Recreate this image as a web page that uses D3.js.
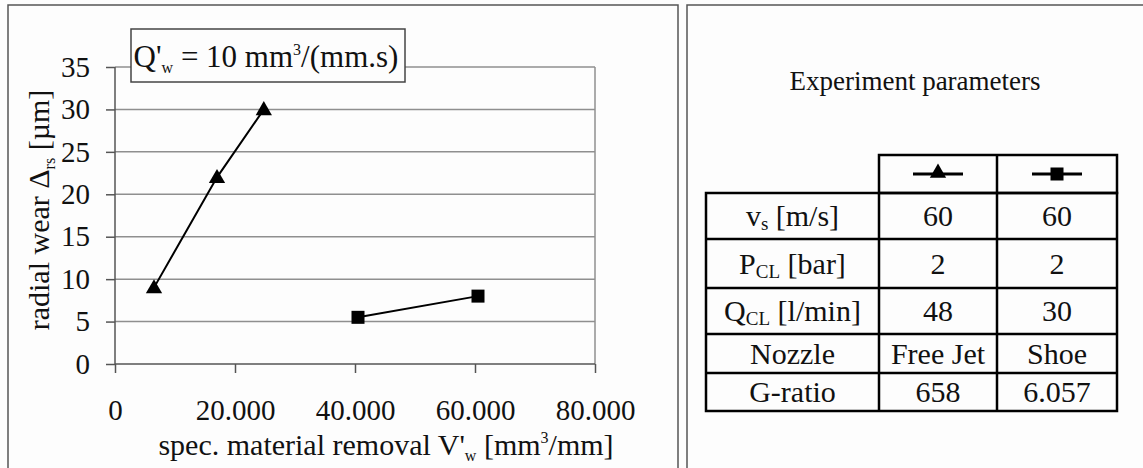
<!DOCTYPE html>
<html><head><meta charset="utf-8">
<script src="https://cdn.jsdelivr.net/npm/d3@7/dist/d3.min.js"></script>
<style>
html,body{margin:0;padding:0;background:#fdfdfd;}
svg{display:block;font-family:"Liberation Serif","Times New Roman",serif;}
svg text{font-family:"Liberation Serif","Times New Roman",serif !important;fill:#111;}
</style></head>
<body>
<svg id="c" width="1143" height="468"></svg>
<script>
// ---- data ----
const xTicks = [0, 20000, 40000, 60000, 80000];
const yTicks = [0, 5, 10, 15, 20, 25, 30, 35];
const freeJetX = [6500, 17000, 24800];
const freeJetY = [9, 22, 30];
const shoeX = [40500, 60500];
const shoeY = [5.5, 8];
const rowLabels = [["v","s"," [m/s]"],["P","CL"," [bar]"],["Q","CL"," [l/min]"],["Nozzle","",""],["G-ratio","",""]];
const freeJetParams = ["60","2","48","Free Jet","658"];
const shoeParams = ["60","2","30","Shoe","6.057"];

const svg = d3.select("#c");
const fmt = d3.formatLocale({decimal:",", thousands:".", grouping:[3], currency:["",""]}).format(",");

// panels
svg.append("rect").attr("x",8).attr("y",5).attr("width",670).attr("height",480)
  .attr("fill","none").attr("stroke","#555").attr("stroke-width",1.5);
svg.append("rect").attr("x",687).attr("y",5).attr("width",480).attr("height",480)
  .attr("fill","none").attr("stroke","#555").attr("stroke-width",1.5);

// scales
const x = d3.scaleLinear().domain([0,80000]).range([115,595]);
const y = d3.scaleLinear().domain([0,35]).range([364,67]);

const g = svg.append("g");
g.selectAll("line.grid").data(yTicks.filter(d=>d>0)).join("line")
  .attr("x1",x(0)).attr("x2",x(80000)).attr("y1",d=>y(d)).attr("y2",d=>y(d))
  .attr("stroke","#8f8f8f").attr("stroke-width",1.5);
g.append("line").attr("x1",x(80000)).attr("x2",x(80000)).attr("y1",y(35)).attr("y2",y(0))
  .attr("stroke","#8f8f8f").attr("stroke-width",1.5);

// axes
const yAxis = d3.axisLeft(y).tickValues(yTicks).tickSize(9).tickPadding(16).tickFormat(d3.format("d"));
const ya = svg.append("g").attr("transform",`translate(${x(0)},0)`).call(yAxis);
const xAxis = d3.axisBottom(x).tickValues(xTicks).tickSize(9).tickPadding(26).tickFormat(fmt);
const xa = svg.append("g").attr("transform",`translate(0,${y(0)})`).call(xAxis);
[ya,xa].forEach(a=>{
  a.attr("font-family",null);
  a.select(".domain").attr("stroke","#555").attr("stroke-width",1.5);
  a.selectAll(".tick line").attr("stroke","#555").attr("stroke-width",1.5);
  a.selectAll(".tick text").attr("font-size",29).attr("fill","#111");
});
xa.select(".domain").attr("d",`M${x(0)},0H${x(80000)}`);
ya.select(".domain").attr("d",`M0,${y(35)}V${y(0)}`);

// series
const line = d3.line().x(d=>x(d[0])).y(d=>y(d[1]));
const fj = freeJetX.map((v,i)=>[v,freeJetY[i]]);
const sh = shoeX.map((v,i)=>[v,shoeY[i]]);
svg.append("path").attr("d",line(fj)).attr("fill","none").attr("stroke","#000").attr("stroke-width",2);
svg.append("path").attr("d",line(sh)).attr("fill","none").attr("stroke","#000").attr("stroke-width",2);
const tri = d3.symbol().type(d3.symbolTriangle).size(115);
svg.selectAll("path.tri").data(fj).join("path").attr("class","tri")
  .attr("d",tri).attr("transform",d=>`translate(${x(d[0])},${y(d[1])+1})`).attr("fill","#000");
svg.selectAll("rect.sq").data(sh).join("rect").attr("class","sq")
  .attr("x",d=>x(d[0])-6.5).attr("y",d=>y(d[1])-6.5).attr("width",13).attr("height",13).attr("fill","#000");

// Q'w box
svg.append("rect").attr("x",131).attr("y",29).attr("width",274).attr("height",53)
  .attr("fill","#fdfdfd").attr("stroke","#444").attr("stroke-width",1.5);
const qt = svg.append("text").attr("x",266).attr("y",67).attr("text-anchor","middle").attr("font-size",31);
qt.append("tspan").text("Q'");
qt.append("tspan").text("w").attr("font-size",16).attr("dy",6);
qt.append("tspan").text(" = 10 mm").attr("dy",-6);
qt.append("tspan").text("3").attr("font-size",16).attr("dy",-12);
qt.append("tspan").text("/(mm.s)").attr("dy",12);

// axis titles
const xt = svg.append("text").attr("x",386).attr("y",455).attr("text-anchor","middle").attr("font-size",30);
xt.append("tspan").text("spec. material removal V'");
xt.append("tspan").text("w").attr("font-size",16).attr("dy",6);
xt.append("tspan").text(" [mm").attr("dy",-6);
xt.append("tspan").text("3").attr("font-size",16).attr("dy",-12);
xt.append("tspan").text("/mm]").attr("dy",12);

const yt = svg.append("text").attr("transform","translate(49,210) rotate(-90)").attr("text-anchor","middle").attr("font-size",30);
yt.append("tspan").text("radial wear Δ");
yt.append("tspan").text("rs").attr("font-size",16).attr("dy",6);
yt.append("tspan").text(" [µm]").attr("dy",-6);

// right panel
svg.append("text").attr("x",915).attr("y",90).attr("text-anchor","middle").attr("font-size",27).text("Experiment parameters");

const colX = [706, 879, 997, 1117];
const rowY = [155, 193, 239, 288, 334, 373, 411];
const tb = svg.append("g").attr("stroke","#000").attr("stroke-width",2.5);
tb.append("rect").attr("x",colX[1]).attr("y",rowY[0]).attr("width",colX[3]-colX[1]).attr("height",rowY[1]-rowY[0]).attr("fill","none");
tb.append("line").attr("x1",colX[2]).attr("x2",colX[2]).attr("y1",rowY[0]).attr("y2",rowY[1]);
tb.append("rect").attr("x",colX[0]).attr("y",rowY[1]).attr("width",colX[3]-colX[0]).attr("height",rowY[6]-rowY[1]).attr("fill","none");
[1,2].forEach(i=>tb.append("line").attr("x1",colX[i]).attr("x2",colX[i]).attr("y1",rowY[1]).attr("y2",rowY[6]));
[2,3,4,5].forEach(i=>tb.append("line").attr("x1",colX[0]).attr("x2",colX[3]).attr("y1",rowY[i]).attr("y2",rowY[i]));

const hy = (rowY[0]+rowY[1])/2;
[[colX[1],colX[2],"tri"],[colX[2],colX[3],"sq"]].forEach(([a,b,t])=>{
  const cx=(a+b)/2;
  svg.append("line").attr("x1",cx-25).attr("x2",cx+25).attr("y1",hy).attr("y2",hy).attr("stroke","#000").attr("stroke-width",3);
  if(t==="tri") svg.append("path").attr("d",tri).attr("transform",`translate(${cx},${hy-1})`).attr("fill","#000");
  else svg.append("rect").attr("x",cx-6.5).attr("y",hy-6.5).attr("width",13).attr("height",13).attr("fill","#000");
});

rowLabels.forEach((r,i)=>{
  const cy = (rowY[i+1]+rowY[i+2])/2 + 10;
  const t = svg.append("text").attr("x",(colX[0]+colX[1])/2).attr("y",cy).attr("text-anchor","middle").attr("font-size",30);
  t.append("tspan").text(r[0]);
  if(r[1]){ t.append("tspan").text(r[1]).attr("font-size",19).attr("dy",4); t.append("tspan").text(r[2]).attr("dy",-4); }
  svg.append("text").attr("x",(colX[1]+colX[2])/2).attr("y",cy).attr("text-anchor","middle").attr("font-size",30).text(freeJetParams[i]);
  svg.append("text").attr("x",(colX[2]+colX[3])/2).attr("y",cy).attr("text-anchor","middle").attr("font-size",30).text(shoeParams[i]);
});
</script>
</body></html>
